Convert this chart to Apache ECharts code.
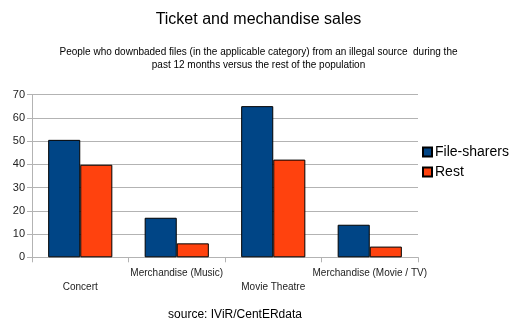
<!DOCTYPE html>
<html>
<head>
<meta charset="utf-8">
<script src="https://cdn.jsdelivr.net/npm/echarts@6/dist/echarts.min.js"></script>
<style>html,body{margin:0;padding:0;background:#fff}#c{width:517px;height:327px}</style>
</head>
<body>
<div id="c"></div>
<script>
var categories = ['Concert', 'Merchandise (Music)', 'Movie Theatre', 'Merchandise (Movie / TV)'];
var fileSharers = [50.5, 17, 65, 14];
var rest = [39.8, 6, 42, 4.6];
var yTicks = [0, 10, 20, 30, 40, 50, 60, 70];

var chart = echarts.init(document.getElementById('c'), null, {renderer: 'canvas'});
var F = '"Liberation Sans", Arial, sans-serif';
chart.setOption({
  animation: false,
  backgroundColor: '#fff',
  title: [
    {text: 'Ticket and mechandise sales', left: 'center', top: 7,
     textStyle: {fontFamily: F, fontSize: 16, fontWeight: 'normal', color: '#000'}},
    {text: 'People who downbaded files (in the applicable category) from an illegal source  during the\npast 12 months versus the rest of the population',
     left: 'center', top: 41,
     textStyle: {fontFamily: F, fontSize: 10, fontWeight: 'normal', color: '#000', lineHeight: 13, align: 'center'}},
    {text: 'source: IViR/CentERdata', left: 230, top: 304, textAlign: 'center',
     textStyle: {fontFamily: F, fontSize: 12, fontWeight: 'normal', color: '#000'}}
  ],
  legend: {
    orient: 'vertical', left: 422, top: 145, padding: 0, itemWidth: 9, itemHeight: 9, itemGap: 6,
    icon: 'rect',
    textStyle: {fontFamily: F, fontSize: 14, color: '#000', padding: [0, 0, 0, -2]},
    data: ['File-sharers', 'Rest']
  },
  grid: {left: 32, right: 99, top: 94.5, bottom: 69.7, containLabel: false},
  xAxis: {
    type: 'category', data: categories,
    axisLine: {lineStyle: {color: '#b3b3b3'}},
    axisTick: {show: true, alignWithLabel: false, length: 5, lineStyle: {color: '#b3b3b3'}},
    axisLabel: {interval: 0, margin: 9, fontFamily: F, fontSize: 10, color: '#222', lineHeight: 14,
      formatter: function (v, i) { return i % 2 === 0 ? '\n' + v : v; }}
  },
  yAxis: {
    type: 'value', min: yTicks[0], max: yTicks[yTicks.length - 1], interval: 10,
    axisLine: {show: true, lineStyle: {color: '#b3b3b3'}},
    axisTick: {show: true, length: 5, lineStyle: {color: '#b3b3b3'}},
    splitLine: {lineStyle: {color: '#b3b3b3'}},
    axisLabel: {margin: 7, fontFamily: F, fontSize: 11, color: '#222'}
  },
  series: [
    {name: 'File-sharers', type: 'bar', data: fileSharers, barGap: 0, barCategoryGap: '33.5%',
     itemStyle: {color: '#004586', borderColor: '#000', borderWidth: 1}},
    {name: 'Rest', type: 'bar', data: rest,
     itemStyle: {color: '#ff420e', borderColor: '#000', borderWidth: 1}}
  ]
});
</script>
</body>
</html>
